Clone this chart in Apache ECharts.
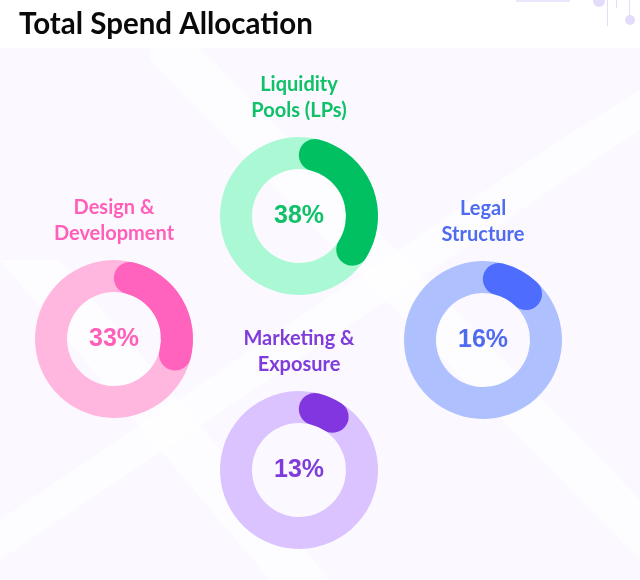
<!DOCTYPE html>
<html>
<head>
<meta charset="utf-8">
<script src="https://cdn.jsdelivr.net/npm/echarts@6/dist/echarts.min.js"></script>
<style>
  html, body { margin: 0; padding: 0; background: #ffffff; }
  #chart { width: 640px; height: 580px; }
</style>
</head>
<body>
<div id="chart"></div>
<script>
// data
const categories = ["Liquidity\nPools (LPs)", "Design &\nDevelopment", "Legal\nStructure", "Marketing &\nExposure"];
const values = [38, 33, 16, 13];

// look
const mainColors = ["#00c062", "#ff63bd", "#4e6dff", "#8136df"];
const trackColors = ["#abf8d4", "#ffb7e0", "#afc0ff", "#dbc3ff"];
const textColors = ["#0fc167", "#ff5fb8", "#4f6bef", "#7f3cdb"];
const centers = [[299, 216], [114, 339], [483, 340], [299, 470]];

const radius = 79;
const ringWidth = 32;
// the round caps stick out past the arc ends; shift the scale so that
// the whole visible arc, caps included, covers the percentage
const capDeg = (ringWidth / 2) / (radius - ringWidth / 2) * 180 / Math.PI;
const capPct = capDeg * 2 / 3.6;

const chart = echarts.init(document.getElementById("chart"));

const series = values.map((v, i) => ({
    type: "gauge",
    center: centers[i],
    radius: radius,
    startAngle: 90 - capDeg,
    endAngle: 90 - capDeg - 360,
    min: capPct,
    max: 100 + capPct,
    clockwise: true,
    pointer: { show: false },
    anchor: { show: false },
    axisTick: { show: false },
    splitLine: { show: false },
    axisLabel: { show: false },
    axisLine: {
        lineStyle: { width: ringWidth, color: [[1, trackColors[i]]] }
    },
    progress: {
        show: true,
        width: ringWidth,
        roundCap: true,
        itemStyle: { color: mainColors[i] }
    },
    title: {
        offsetCenter: [0, -118],
        color: textColors[i],
        fontFamily: "Lato",
        fontWeight: "bold",
        fontSize: 20,
        lineHeight: 26
    },
    detail: {
        offsetCenter: [0, 0],
        valueAnimation: false,
        formatter: "{value}%",
        color: textColors[i],
        fontFamily: "Liberation Sans",
        fontWeight: "bold",
        fontSize: 25
    },
    data: [{ value: v, name: categories[i] }]
}));

const option = {
    animation: false,
    backgroundColor: "#ffffff",
    title: {
        text: "Total Spend Allocation",
        left: 14,
        top: 4,
        textStyle: { fontFamily: "Lato", fontWeight: "bold", fontSize: 29.5, color: "#0a0a0a" }
    },
    graphic: [
        { type: "rect", silent: true, z: -10, shape: { x: 0, y: 48, width: 640, height: 532 }, style: { fill: "#fbf9ff" } },
        { type: "polygon", silent: true, z: -9, shape: { points: [[150, 48], [200, 48], [640, 500], [640, 560], [150, 60]] }, style: { fill: "#ffffff", opacity: 0.55 } },
        { type: "polygon", silent: true, z: -9, shape: { points: [[0, 260], [60, 260], [330, 580], [270, 580]] }, style: { fill: "#ffffff", opacity: 0.55 } },
        { type: "polygon", silent: true, z: -9, shape: { points: [[560, 140], [640, 90], [640, 130], [0, 560], [0, 520]] }, style: { fill: "#ffffff", opacity: 0.5 } },
        { type: "rect", silent: true, z: -8, shape: { x: 516, y: 0, width: 54, height: 2 }, style: { fill: "#ebe6fb" } },
        { type: "circle", silent: true, z: -8, shape: { cx: 599, cy: 1, r: 6 }, style: { fill: "#e3dcfa" } },
        { type: "rect", silent: true, z: -8, shape: { x: 607, y: 0, width: 1, height: 26 }, style: { fill: "#e3dcfa" } },
        { type: "rect", silent: true, z: -8, shape: { x: 616, y: 0, width: 1, height: 8 }, style: { fill: "#e3dcfa" } },
        { type: "rect", silent: true, z: -8, shape: { x: 629, y: 0, width: 1, height: 16 }, style: { fill: "#e3dcfa" } },
        { type: "circle", silent: true, z: -8, shape: { cx: 630, cy: 20, r: 5 }, style: { fill: "#e3dcfa" } }
    ],
    series: series
};
chart.setOption(option);
</script>
</body>
</html>
